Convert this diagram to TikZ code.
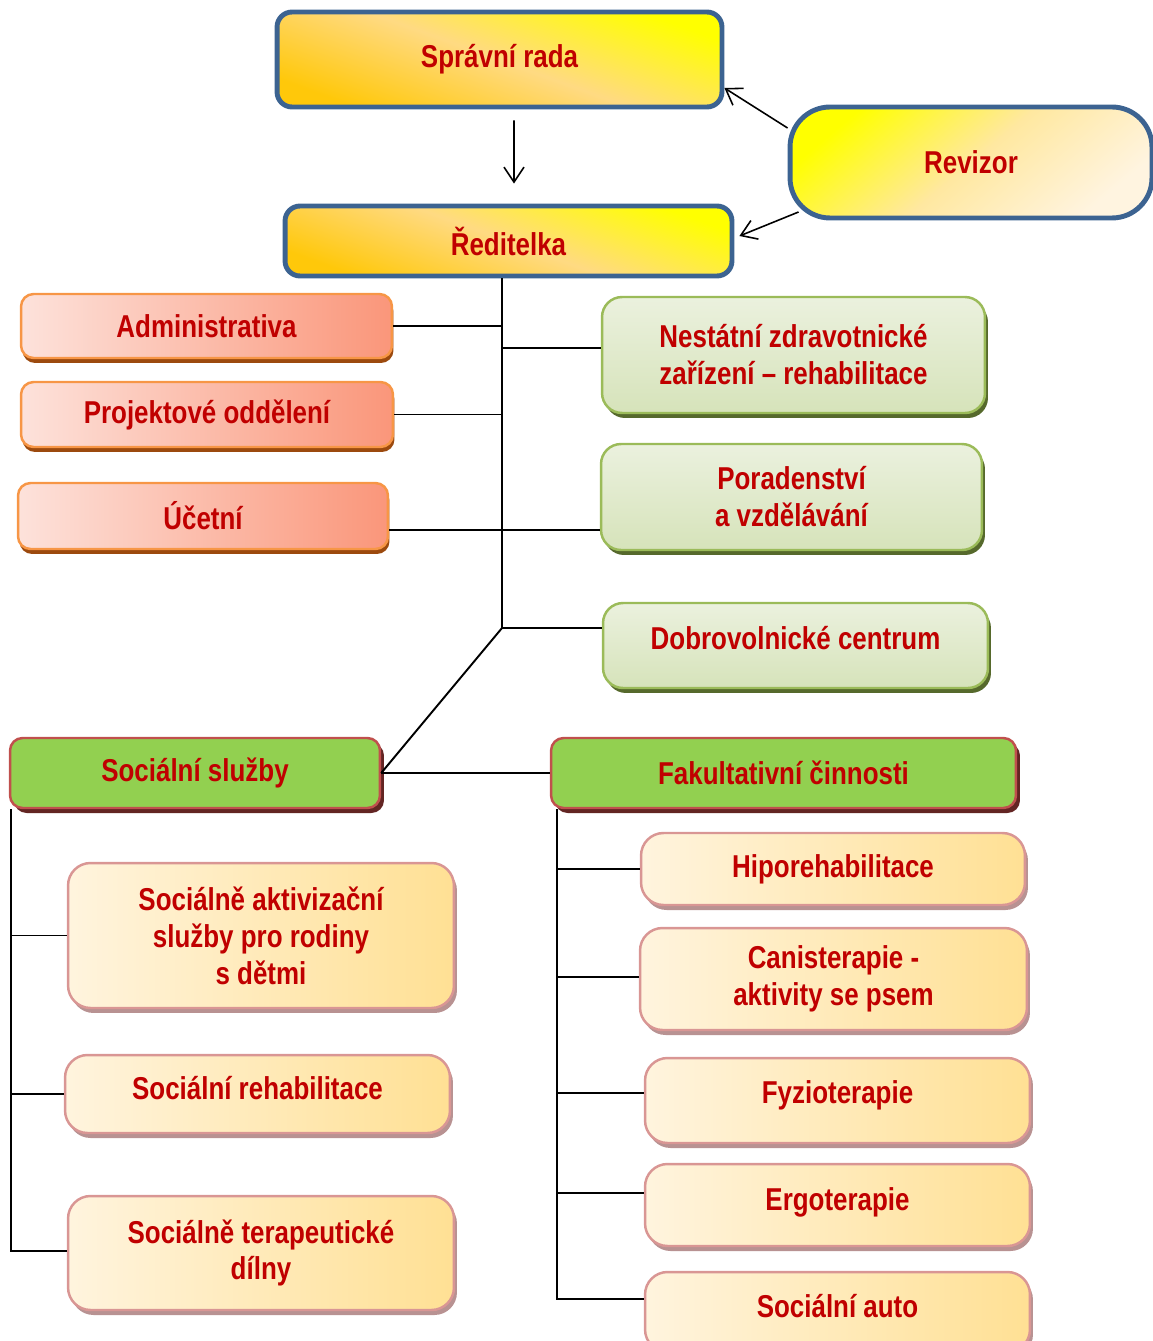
\documentclass[tikz,border=0pt]{standalone}
\usepackage{fontspec}
\setmainfont[FakeStretch=0.82]{Liberation Sans}
\usepackage{tikz}
\usetikzlibrary{arrows.meta,shadows}

\definecolor{txtred}{HTML}{C00000}
\definecolor{navyline}{HTML}{3C6391}
\definecolor{orangeline}{HTML}{F79646}
\definecolor{orangeshadow}{HTML}{9C4A0E}
\definecolor{greenline}{HTML}{9BBB59}
\definecolor{greenshadow}{HTML}{56692C}
\definecolor{redline}{HTML}{C0504D}
\definecolor{redshadow}{HTML}{632523}
\definecolor{pinkline}{HTML}{D99694}
\definecolor{pinkshadow}{HTML}{B89292}

\tikzset{
  box/.style={align=center, inner sep=0pt, text=txtred,
    font=\fontsize{18}{21}\selectfont\bfseries},
  topbox/.style={box, draw=navyline, line width=2.8pt, rounded corners=0.3cm,
    top color=yellow, bottom color={rgb,255:red,255;green,200;blue,10},
    middle color={rgb,255:red,255;green,218;blue,130}, shading angle=-20},
  revbox/.style={box, draw=navyline, line width=2.8pt, rounded corners=0.8cm,
    top color=yellow, bottom color={rgb,255:red,255;green,244;blue,224},
    middle color={rgb,255:red,255;green,232;blue,160}, shading angle=40},
  staffbox/.style={box, draw=orangeline, line width=1.4pt, rounded corners=0.25cm,
    left color={rgb,255:red,253;green,226;blue,219},
    right color={rgb,255:red,250;green,150;blue,122},
    drop shadow={shadow xshift=0.03cm, shadow yshift=-0.1cm, fill=orangeshadow, opacity=1}},
  unitbox/.style={box, draw=greenline, line width=1.4pt, rounded corners=0.4cm,
    top color={rgb,255:red,235;green,241;blue,222},
    bottom color={rgb,255:red,214;green,227;blue,186},
    drop shadow={shadow xshift=0.06cm, shadow yshift=-0.1cm, fill=greenshadow, opacity=1}},
  headbox/.style={box, draw=redline, line width=1.4pt, rounded corners=0.25cm,
    fill={rgb,255:red,146;green,208;blue,80},
    drop shadow={shadow xshift=0.08cm, shadow yshift=-0.1cm, fill=redshadow, opacity=1}},
  servbox/.style={box, draw=pinkline, line width=1.4pt, rounded corners=0.45cm,
    left color={rgb,255:red,255;green,244;blue,222},
    right color={rgb,255:red,255;green,224;blue,148},
    drop shadow={shadow xshift=0.06cm, shadow yshift=-0.1cm, fill=pinkshadow, opacity=1}},
  link/.style={line width=1.1pt},
  arr/.style={line width=0.9pt, -{Straight Barb[length=0.3cm,width=0.4cm]}}
}

\begin{document}
\begin{tikzpicture}[x=0.02cm, y=-0.02cm]
    \useasboundingbox (0,0) rectangle (1152,1341);

    % top
    \node[topbox, minimum width=8.9cm, minimum height=1.9cm] (sprava) at (499.5,59.5) {Správní rada};
    \node[topbox, minimum width=8.94cm, minimum height=1.4cm] (reditelka) at (508.5,241) {Ředitelka};
    \node[revbox, minimum width=7.24cm, minimum height=2.22cm] (revizor) at (971,162.5) {Revizor};

    \draw[arr, shorten <=0.22cm, shorten >=0.4cm] ([xshift=0.29cm]sprava.south) -- ([xshift=0.11cm]reditelka.north);
    \draw[arr] ([yshift=0.69cm]revizor.west) -- ([yshift=-0.57cm]sprava.east);
    \draw[arr] ([xshift=0.22cm,yshift=-0.99cm]revizor.west) -- ([xshift=0.1cm,yshift=0.1cm]reditelka.east);

    % left column
    \node[staffbox, minimum width=7.42cm, minimum height=1.28cm] (admin) at (206.5,326) {Administrativa};
    \node[staffbox, minimum width=7.44cm, minimum height=1.3cm] (projekt) at (207,414.5) {Projektové oddělení};
    \node[staffbox, minimum width=7.4cm, minimum height=1.32cm] (ucetni) at (203,516) {Účetní};

    % right column
    \node[unitbox, minimum width=7.66cm, minimum height=2.32cm] (nestatni) at (793.5,355) {Nestátní zdravotnické\\zařízení – rehabilitace};
    \node[unitbox, minimum width=7.62cm, minimum height=2.12cm] (poradenstvi) at (791.5,497) {Poradenství\\a vzdělávání};
    \node[unitbox, minimum width=7.7cm, minimum height=1.7cm, text depth=0.32cm] (dobrovol) at (795.5,645.5) {Dobrovolnické centrum};

    % trunk
    \coordinate (tBot) at (502,628);
    \coordinate (tUc) at (502,530);
    \draw[link] (reditelka.south -| tBot) -- (tBot);
    \draw[link] (admin.east) -- (admin.east -| tBot);
    \draw[link] ([yshift=0.14cm]nestatni.west -| tBot) -- ([yshift=0.14cm]nestatni.west);
    \draw[link] (projekt.east) -- (projekt.east -| tBot);
    \draw[link] (tUc -| ucetni.east) -- (tUc -| poradenstvi.west);
    \draw[link] (tBot) -- (tBot -| dobrovol.west);

    % second level
    \node[headbox, minimum width=7.4cm, minimum height=1.4cm] (socsluzby) at (195,773) {Sociální služby};
    \node[headbox, minimum width=9.3cm, minimum height=1.4cm] (fakult) at (783.5,773) {Fakultativní činnosti};

    \draw[link] (tBot) -- (socsluzby.east);
    \draw[link] (socsluzby.east) -- (fakult.west);

    % social services
    \node[servbox, minimum width=7.72cm, minimum height=2.9cm] (aktiv) at (261,935.5) {Sociálně aktivizační\\služby pro rodiny\\s dětmi};
    \node[servbox, minimum width=7.7cm, minimum height=1.56cm, text depth=0.25cm] (rehab) at (257.5,1094) {Sociální rehabilitace};
    \node[servbox, minimum width=7.72cm, minimum height=2.28cm] (dilny) at (261,1253) {Sociálně terapeutické\\dílny};

    \coordinate (lBot) at (11,1251);
    \draw[link] (socsluzby.south -| lBot) -- (lBot) -- (lBot -| dilny.west);
    \draw[link] (aktiv.west -| lBot) -- (aktiv.west);
    \draw[link] (rehab.west -| lBot) -- (rehab.west);

    % optional activities
    \node[servbox, minimum width=7.68cm, minimum height=1.44cm] (hipo) at (833,869) {Hiporehabilitace};
    \node[servbox, minimum width=7.74cm, minimum height=2.04cm] (canis) at (833.5,979) {Canisterapie -\\aktivity se psem};
    \node[servbox, minimum width=7.7cm, minimum height=1.7cm, text depth=0.33cm] (fyzio) at (837.5,1100.5) {Fyzioterapie};
    \node[servbox, minimum width=7.7cm, minimum height=1.64cm, text depth=0.25cm] (ergo) at (837.5,1205) {Ergoterapie};
    \node[servbox, minimum width=7.7cm, minimum height=1.6cm, text depth=0.25cm] (auto) at (837.5,1312) {Sociální auto};

    \coordinate (rBot) at (557,1299);
    \draw[link] (fakult.south -| rBot) -- (rBot) -- (rBot -| auto.west);
    \draw[link] (hipo.west -| rBot) -- (hipo.west);
    \draw[link] ([yshift=0.04cm]canis.west -| rBot) -- ([yshift=0.04cm]canis.west);
    \draw[link] ([yshift=0.15cm]fyzio.west -| rBot) -- ([yshift=0.15cm]fyzio.west);
    \draw[link] ([yshift=0.24cm]ergo.west -| rBot) -- ([yshift=0.24cm]ergo.west);

\end{tikzpicture}
\end{document}
